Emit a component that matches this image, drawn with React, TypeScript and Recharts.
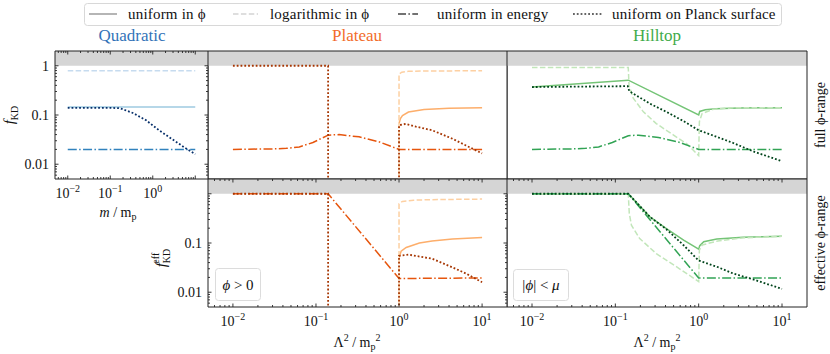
import React from "react";
import { LineChart, Line, XAxis, YAxis, ReferenceArea } from "recharts";

type Pt = [number, number];

const FONT = "'Liberation Serif', 'DejaVu Serif', serif";
const X_MIN = 10 ** -2.3;
const X_MAX = 10 ** 1.3;
const Y_MIN = 10 ** -2.3;
const Y_MAX = 10 ** 0.3;
const LOW = 1e-4; // below the frame, used for the vertical drops

// Quadratic, x = m / m_p
const quadUniform: Pt[] = [[0.01, 0.145], [10, 0.145]];
const quadLog: Pt[] = [[0.01, 0.79], [10, 0.79]];
const quadEnergy: Pt[] = [[0.01, 0.02], [10, 0.02]];
const quadPlanck: Pt[] = [[0.01, 0.14], [0.1, 0.14], [0.17, 0.137], [0.34, 0.11], [0.7, 0.078], [1.4, 0.049], [2.9, 0.032], [6, 0.021], [10, 0.016]];

// Plateau, full phi-range, x = Lambda^2 / m_p^2
const platFullUniform: Pt[] = [[1, 0.067], [1.04, 0.085], [1.1, 0.097], [1.3, 0.115], [2, 0.129], [4, 0.137], [10, 0.14]];
const platFullLog: Pt[] = [[1, LOW], [1, 0.68], [1.08, 0.74], [1.3, 0.77], [2, 0.785], [10, 0.79]];
const platFullEnergy: Pt[] = [[0.01, 0.02], [0.03, 0.0205], [0.044, 0.021], [0.063, 0.0225], [0.092, 0.0276], [0.14, 0.039], [0.19, 0.04], [0.33, 0.036], [0.58, 0.0284], [1, 0.02], [10, 0.02]];
const platFullPlanck: Pt[] = [[0.01, 1], [0.14, 1], [0.14, LOW], [1, LOW], [1, 0.062], [1.2, 0.066], [1.6, 0.058], [2.5, 0.049], [4.4, 0.033], [6.4, 0.024], [10, 0.0166]];

// Plateau, effective phi-range (phi > 0)
const platEffUniform: Pt[] = [[1, 0.051], [1.06, 0.068], [1.22, 0.081], [1.76, 0.1], [2.5, 0.11], [4.4, 0.12], [10, 0.13]];
const platEffLog: Pt[] = [[1, LOW], [1, 0.63], [1.1, 0.7], [1.5, 0.74], [2.5, 0.76], [10, 0.78]];
const platEffEnergy: Pt[] = [[0.01, 1], [0.14, 1], [1, 0.019], [10, 0.0195]];
const platEffPlanck: Pt[] = [[0.01, 1], [0.14, 1], [0.14, LOW], [1, LOW], [1, 0.055], [1.3, 0.058], [2.5, 0.048], [4.4, 0.032], [6.4, 0.024], [10, 0.016]];

// Hilltop, full phi-range
const hillFullUniform: Pt[] = [[0.01, 0.37], [0.143, 0.51], [1, 0.1], [1.03, 0.118], [1.2, 0.128], [1.6, 0.134], [3, 0.139], [10, 0.14]];
const hillFullLog: Pt[] = [[0.01, 0.92], [0.143, 0.92], [0.146, 0.4], [0.164, 0.22], [0.217, 0.116], [0.31, 0.067], [0.5, 0.039], [0.72, 0.026], [1, 0.015], [1.02, 0.073], [1.1, 0.107], [1.5, 0.131], [2.6, 0.14], [10, 0.14]];
const hillFullEnergy: Pt[] = [[0.01, 0.02], [0.03, 0.0205], [0.044, 0.021], [0.063, 0.0225], [0.092, 0.0276], [0.143, 0.038], [0.19, 0.039], [0.33, 0.035], [0.58, 0.028], [1, 0.02], [10, 0.02]];
const hillFullPlanck: Pt[] = [[0.01, 0.37], [0.141, 0.385], [0.147, 0.305], [0.26, 0.17], [0.41, 0.116], [0.66, 0.075], [1, 0.049], [1.65, 0.036], [2.6, 0.027], [4.6, 0.018], [10, 0.0115]];

// Hilltop, effective phi-range (|phi| < mu)
const hillEffUniform: Pt[] = [[0.01, 1], [0.143, 1], [0.26, 0.34], [0.41, 0.196], [0.66, 0.114], [1, 0.075], [1.03, 0.088], [1.15, 0.106], [1.65, 0.12], [3.4, 0.131], [10, 0.137]];
const hillEffLog: Pt[] = [[0.01, 1], [0.143, 1], [0.147, 0.4], [0.156, 0.23], [0.196, 0.123], [0.31, 0.061], [0.54, 0.033], [1, 0.0165], [1.02, 0.072], [1.1, 0.091], [1.7, 0.11], [3.3, 0.127], [10, 0.137]];
const hillEffEnergy: Pt[] = [[0.01, 1], [0.143, 1], [1, 0.0195], [10, 0.0195]];
const hillEffPlanck: Pt[] = [[0.01, 1], [0.143, 1], [0.26, 0.34], [0.41, 0.19], [0.66, 0.09], [1, 0.044], [1.65, 0.033], [2.6, 0.024], [4.6, 0.018], [10, 0.0117]];

const decades = [0.001, 0.01, 0.1, 1, 10];
const minorSteps = [1, 2, 3, 4, 5, 6, 7, 8, 9];
const xTicks = decades.flatMap((d) => minorSteps.map((m) => d * m)).filter((v) => v >= X_MIN && v <= X_MAX);
const yTicks = decades.flatMap((d) => minorSteps.map((m) => d * m)).filter((v) => v >= Y_MIN && v <= Y_MAX);

const legendItems = [
  { label: "uniform in ϕ", color: "#a8a8a8", dash: undefined, x1: 89, x2: 117, tx: 128 },
  { label: "logarithmic in ϕ", color: "#d4d4d4", dash: "5.5 2.4", x1: 233, x2: 258, tx: 270 },
  { label: "uniform in energy", color: "#444", dash: "8 2.4 1.5 2.4", x1: 398, x2: 418, tx: 437 },
  { label: "uniform on Planck surface", color: "#333", dash: "1.8 2", x1: 573, x2: 602, tx: 612 },
];

const DASH: Record<string, string | undefined> = {
  uniform: undefined,
  log: "5.5 2.4",
  energy: "9 2.4 1.5 2.4",
  planck: "1.8 2",
};

const isMajor = (v: number) => Math.abs(Math.log10(v) - Math.round(Math.log10(v))) < 1e-6;
const expLabel = (e: number) => (e < 0 ? "−" + -e : String(e));

function XTick(props: any) {
  const { x, y, payload, plotH, labels } = props;
  const v = payload.value;
  const major = isMajor(v);
  const len = major ? 3.5 : 2;
  const e = Math.round(Math.log10(v));
  return (
    <g>
      <line x1={x} x2={x} y1={y} y2={y - len} stroke="#222" strokeWidth={0.9} />
      <line x1={x} x2={x} y1={y - plotH} y2={y - plotH + len} stroke="#222" strokeWidth={0.9} />
      {major && labels.includes(e) && (
        <text x={x} y={y + 19} textAnchor="middle" fontSize={14} fontFamily={FONT} fill="#111">
          10<tspan dy={-6} fontSize={10}>{expLabel(e)}</tspan>
        </text>
      )}
    </g>
  );
}

function YTick(props: any) {
  const { x, y, payload, plotW, labels } = props;
  const v = payload.value;
  const major = isMajor(v);
  const len = major ? 3.5 : 2;
  const txt = v >= 1 ? "1" : v >= 0.1 - 1e-9 && major ? "0.1" : "0.01";
  return (
    <g>
      <line x1={x} x2={x + len} y1={y} y2={y} stroke="#222" strokeWidth={0.9} />
      <line x1={x + plotW} x2={x + plotW - len} y1={y} y2={y} stroke="#222" strokeWidth={0.9} />
      {major && labels.includes(txt) && (
        <text x={x - 6} y={y + 5} textAnchor="end" fontSize={14} fontFamily={FONT} fill="#111">
          {txt}
        </text>
      )}
    </g>
  );
}

type Series = { data: Pt[]; color: string; kind: string };

function Panel(props: {
  left: number;
  top: number;
  w: number;
  h: number;
  labelW: number;
  labelH: number;
  xLabels: number[];
  yLabels: string[];
  series: Series[];
}) {
  const { left, top, w, h, labelW, labelH, xLabels, yLabels, series } = props;
  return (
    <div style={{ position: "absolute", left: left - labelW, top: top - 1 }}>
      <LineChart width={w + labelW + 1} height={h + labelH + 1} margin={{ top: 1, right: 1, left: 0, bottom: 0 }}>
        <XAxis
          dataKey="x"
          type="number"
          scale="log"
          domain={[X_MIN, X_MAX]}
          allowDataOverflow
          ticks={xTicks}
          interval={0}
          height={labelH}
          tickSize={0}
          tickMargin={0}
          axisLine={false}
          tickLine={false}
          tick={(p: any) => <XTick {...p} plotH={h} labels={xLabels} />}
        />
        <YAxis
          type="number"
          scale="log"
          domain={[Y_MIN, Y_MAX]}
          allowDataOverflow
          ticks={yTicks}
          interval={0}
          width={labelW}
          tickSize={0}
          tickMargin={0}
          axisLine={false}
          tickLine={false}
          tick={(p: any) => <YTick {...p} plotW={w} labels={yLabels} />}
        />
        <ReferenceArea x1={X_MIN} x2={X_MAX} y1={1} y2={Y_MAX} fill="#d5d5d5" fillOpacity={1} stroke="none" />
        {series.map((s, i) => (
          <Line
            key={i}
            data={s.data.map(([x, y]) => ({ x, y }))}
            dataKey="y"
            type="linear"
            stroke={s.color}
            strokeWidth={s.kind === "planck" ? 1.8 : 1.5}
            strokeDasharray={DASH[s.kind]}
            dot={false}
            activeDot={false}
            isAnimationActive={false}
          />
        ))}
        <ReferenceArea x1={X_MIN} x2={X_MAX} y1={Y_MIN} y2={Y_MAX} fill="none" stroke="#222" strokeWidth={1} />
      </LineChart>
    </div>
  );
}

const BLUE = { uniform: "#9ecae1", log: "#c6dbef", energy: "#3182bd", planck: "#08306b" };
const ORANGE = { uniform: "#fdae6b", log: "#fdd0a2", energy: "#e6550d", planck: "#a63603" };
const GREEN = { uniform: "#74c476", log: "#c2e6ba", energy: "#31a354", planck: "#00441b" };

function mk(c: Record<string, string>, u: Pt[], l: Pt[], e: Pt[], p: Pt[]): Series[] {
  return [
    { data: u, color: c.uniform, kind: "uniform" },
    { data: l, color: c.log, kind: "log" },
    { data: e, color: c.energy, kind: "energy" },
    { data: p, color: c.planck, kind: "planck" },
  ];
}

const TOP_ROW = 51;
const BOT_ROW = 179;
const ROW_H = 128;

export default function App() {
  const txt = { fontFamily: FONT, fill: "#111" };
  return (
    <div style={{ position: "absolute", left: 0, top: 0, width: 830, height: 354, background: "#fff", overflow: "hidden" }}>
      <Panel left={55} top={TOP_ROW} w={153} h={ROW_H} labelW={55} labelH={26} xLabels={[-2, -1, 0]} yLabels={["1", "0.1", "0.01"]}
        series={mk(BLUE, quadUniform, quadLog, quadEnergy, quadPlanck)} />
      <Panel left={208} top={TOP_ROW} w={299} h={ROW_H} labelW={0} labelH={0} xLabels={[]} yLabels={[]}
        series={mk(ORANGE, platFullUniform, platFullLog, platFullEnergy, platFullPlanck)} />
      <Panel left={507} top={TOP_ROW} w={300} h={ROW_H} labelW={0} labelH={0} xLabels={[]} yLabels={[]}
        series={mk(GREEN, hillFullUniform, hillFullLog, hillFullEnergy, hillFullPlanck)} />
      <Panel left={208} top={BOT_ROW} w={299} h={ROW_H} labelW={40} labelH={26} xLabels={[-2, -1, 0, 1]} yLabels={["0.1", "0.01"]}
        series={mk(ORANGE, platEffUniform, platEffLog, platEffEnergy, platEffPlanck)} />
      <Panel left={507} top={BOT_ROW} w={300} h={ROW_H} labelW={0} labelH={26} xLabels={[-2, -1, 0, 1]} yLabels={[]}
        series={mk(GREEN, hillEffUniform, hillEffLog, hillEffEnergy, hillEffPlanck)} />

      <svg width={830} height={354} style={{ position: "absolute", left: 0, top: 0, pointerEvents: "none" }}>
        {/* legend */}
        <rect x={84.5} y={3.5} width={697} height={22} rx={3} fill="#fff" fillOpacity={0.9} stroke="#d8d8d8" />
        {legendItems.map((it) => (
          <g key={it.label}>
            <line x1={it.x1} x2={it.x2} y1={14} y2={14} stroke={it.color} strokeWidth={1.7} strokeDasharray={it.dash} />
            <text x={it.tx} y={19} fontSize={15} letterSpacing={0.2} {...txt}>{it.label}</text>
          </g>
        ))}

        {/* titles */}
        <text x={132} y={41} textAnchor="middle" fontSize={17} fontFamily={FONT} fill="#3273b8">Quadratic</text>
        <text x={357} y={41} textAnchor="middle" fontSize={17} fontFamily={FONT} fill="#f26b2a">Plateau</text>
        <text x={657} y={41} textAnchor="middle" fontSize={17} fontFamily={FONT} fill="#42ab4a">Hilltop</text>

        {/* axis labels */}
        <text transform="translate(14,115) rotate(-90)" textAnchor="middle" fontSize={15} {...txt}>
          <tspan fontStyle="italic">f</tspan><tspan dy={4} fontSize={10}>KD</tspan>
        </text>
        <text transform="translate(166,258) rotate(-90)" textAnchor="middle" fontSize={15} {...txt}>
          <tspan fontStyle="italic">f</tspan><tspan dy={4} fontSize={10}>KD</tspan><tspan dx={-15} dy={-11} fontSize={10}>eff</tspan>
        </text>
        <text x={118} y={217} textAnchor="middle" fontSize={14} {...txt}>
          <tspan fontStyle="italic">m</tspan> / m<tspan dy={3} fontSize={10}>p</tspan>
        </text>
        {[357, 657].map((cx) => (
          <text key={cx} x={cx} y={347} textAnchor="middle" fontSize={14} {...txt}>
            Λ<tspan dy={-6} fontSize={10}>2</tspan><tspan dy={6}> / m</tspan><tspan dy={3} fontSize={10}>p</tspan><tspan dy={-9} fontSize={10}>2</tspan>
          </text>
        ))}
        <text transform="translate(825,115) rotate(-90)" textAnchor="middle" fontSize={14} {...txt}>full ϕ-range</text>
        <text transform="translate(825,243) rotate(-90)" textAnchor="middle" fontSize={14} {...txt}>effective ϕ-range</text>

        {/* inset annotations */}
        <rect x={215.5} y={268.5} width={45} height={32} rx={3} fill="#fff" fillOpacity={0.8} stroke="#dcdcdc" />
        <text x={238} y={290} textAnchor="middle" fontSize={15} {...txt}><tspan fontStyle="italic">ϕ</tspan> &gt; 0</text>
        <rect x={513.5} y={269.5} width={55} height={31} rx={3} fill="#fff" fillOpacity={0.8} stroke="#dcdcdc" />
        <text x={541} y={290} textAnchor="middle" fontSize={15} {...txt}>|<tspan fontStyle="italic">ϕ</tspan>| &lt; <tspan fontStyle="italic">μ</tspan></text>
      </svg>
    </div>
  );
}
